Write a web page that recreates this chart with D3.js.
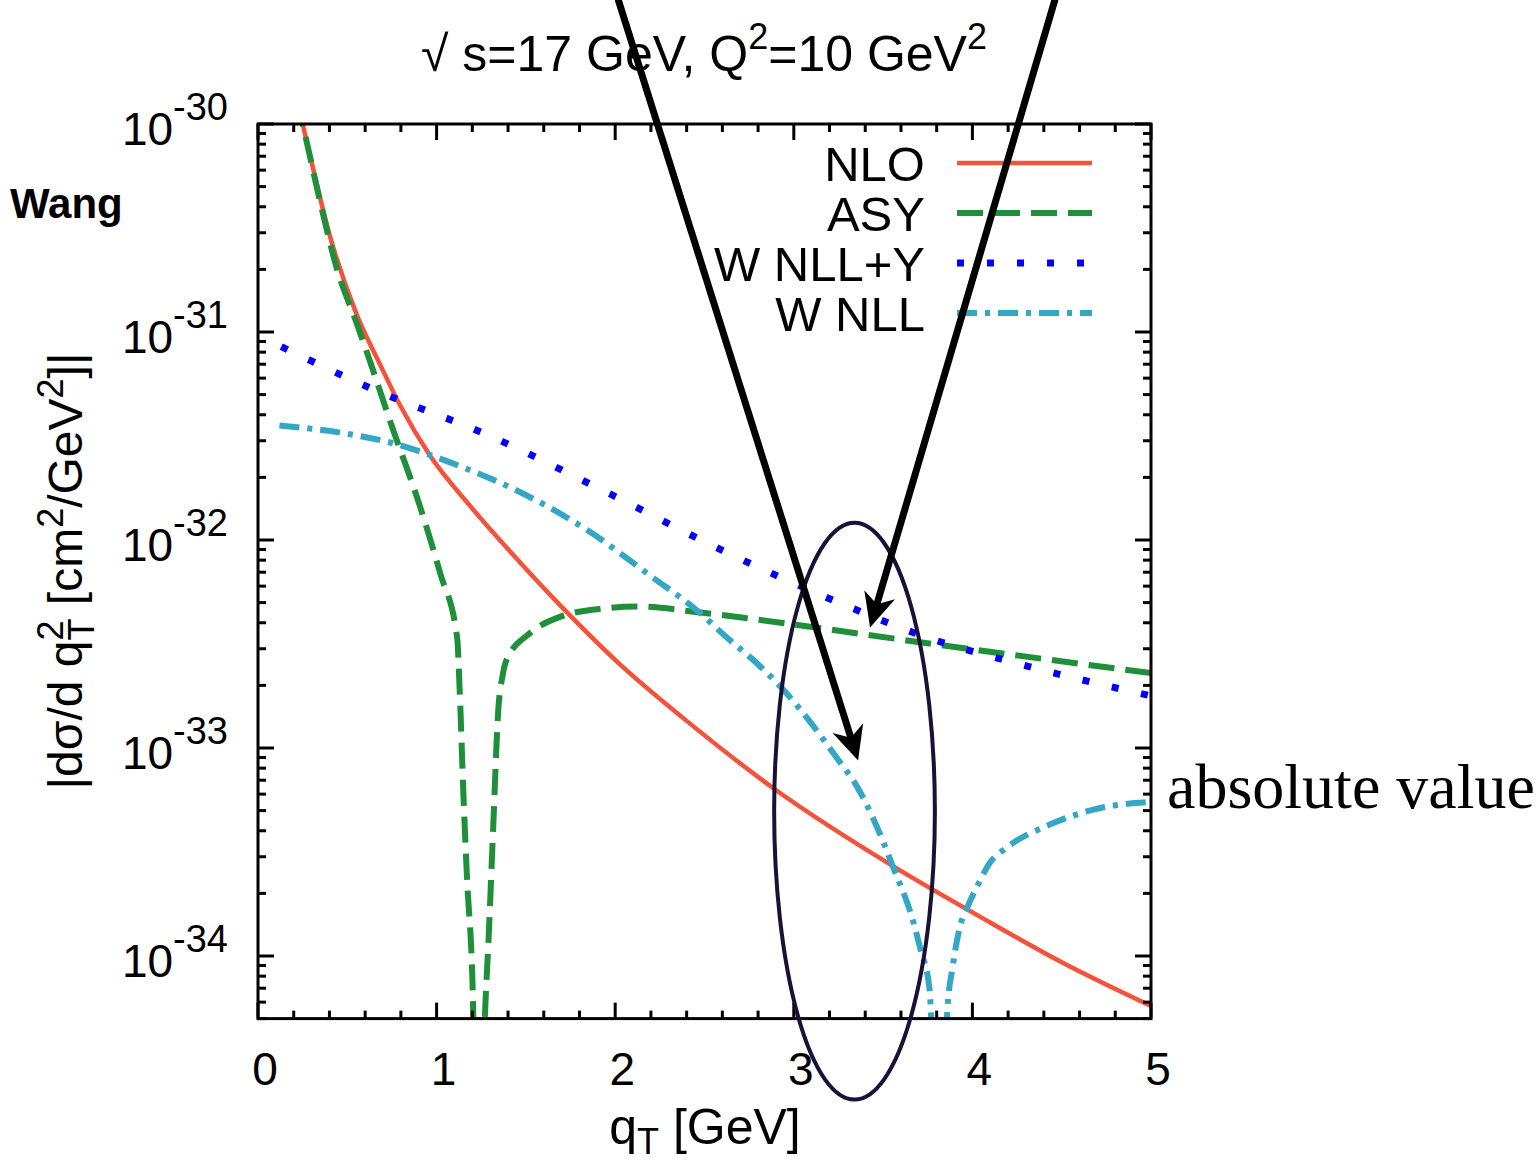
<!DOCTYPE html>
<html><head><meta charset="utf-8">
<script src="https://cdn.jsdelivr.net/npm/d3@7"></script>
<style>
body{margin:0;background:#fff}
svg{display:block}
text{font-family:"Liberation Sans",Arial,Helvetica,sans-serif;fill:#000}
</style>
</head><body>
<svg id="chart" width="1537" height="1164"></svg>
<script>
// ---------- data ----------
const xTickLabels = ["0","1","2","3","4","5"];
const yTickExponents = ["-30","-31","-32","-33","-34"];
const seriesNames = ["NLO","ASY","W NLL+Y","W NLL"];

const nloQ = [0.22,0.28,0.40,0.55,0.68,0.80,0.96,1.19,1.47,1.71,2.03,2.40,2.88,3.56,4.04,4.50,5.00];
const nloV = [1.29e-30,7.76e-31,2.95e-31,1.23e-31,7.08e-32,4.37e-32,2.57e-32,1.45e-32,7.76e-33,4.68e-33,2.51e-33,1.35e-33,6.46e-34,2.69e-34,1.55e-34,9.33e-35,5.75e-35];

const asyQ = [0.22,0.25,0.347,0.44,0.553,0.627,0.74,0.907,1.02,1.115,1.13,1.15,1.17,1.20,1.235,1.27,1.29,1.317,1.345,1.37,1.39,1.52,1.69,1.93,2.12,2.49,2.77,3.03,3.78,5.0];
const asyV = [1.29e-30,1.0e-30,4.27e-31,2.04e-31,1.10e-31,7.24e-32,3.72e-32,1.45e-32,6.92e-33,3.39e-33,1.82e-33,6.03e-34,2.40e-34,7.94e-35,3.16e-36,5.01e-35,1.15e-34,4.17e-34,1.51e-33,2.24e-33,2.63e-33,3.55e-33,4.27e-33,4.68e-33,4.79e-33,4.47e-33,4.17e-33,3.89e-33,3.16e-33,2.29e-33];

const wyQ = [0.13,0.63,1.30,1.95,2.60,3.25,3.75,4.28,5.0];
const wyV = [8.51e-32,5.37e-32,3.16e-32,1.70e-32,8.91e-33,5.01e-33,3.39e-33,2.51e-33,1.78e-33];

const wQ = [0.12,0.50,0.78,0.96,1.19,1.37,1.84,2.21,2.46,2.64,2.79,2.94,3.26,3.35,3.44,3.555,3.67,3.71,3.76,3.815,3.86,3.89,3.93,3.97,4.03,4.10,4.19,4.43,4.71,5.0];
const wV = [3.55e-32,3.24e-32,2.88e-32,2.57e-32,2.16e-32,1.86e-32,1.12e-32,6.61e-33,4.57e-33,3.31e-33,2.57e-33,1.91e-33,8.51e-34,6.61e-34,4.68e-34,2.69e-34,1.45e-34,1.07e-34,6.92e-35,3.16e-36,5.50e-35,8.91e-35,1.38e-34,1.70e-34,2.19e-34,2.82e-34,3.31e-34,4.27e-34,5.13e-34,5.50e-34];

// annotation anchors in data coordinates
const ellipseC = [3.34, 5.0e-34];
const ellipseTopV = 1.21e-32, ellipseBotV = 2.04e-35, ellipseHalfW = 0.45;
const arrowA = {from:[2.016, 3.98e-30], to:[3.36, 8.7e-34]};
const arrowB = {from:[4.463, 3.98e-30], to:[3.427, 3.8e-33]};

// ---------- layout ----------
const L = 258, R = 1151, T = 124, B = 1018.6;
const svg = d3.select("#chart");
const x = d3.scaleLinear().domain([0,5]).range([L,R]);
const y = d3.scaleLog().domain([5e-35,1e-30]).range([B,T]);

svg.append("defs").append("clipPath").attr("id","clip")
  .append("rect").attr("x",L).attr("y",T).attr("width",R-L).attr("height",B-T);

const line = d3.line().x(d=>x(d[0])).y(d=>y(d[1])).curve(d3.curveMonotoneX);
const zip = (a,b)=>a.map((v,i)=>[v,b[i]]);

const styles = [
  {q:nloQ, v:nloV, color:"#f4523a", w:4.5, dash:null},
  {q:asyQ, v:asyV, color:"#1f8f3a", w:6, dash:"26 11"},
  {q:wyQ,  v:wyV,  color:"#0000ff", w:7, dash:"7 23"},
  {q:wQ,   v:wV,   color:"#35a7c6", w:6, dash:"20 8 5 8"}
];

const g = svg.append("g").attr("clip-path","url(#clip)");
styles.forEach(s=>{
  g.append("path").attr("d", line(zip(s.q,s.v)))
    .attr("fill","none").attr("stroke",s.color).attr("stroke-width",s.w)
    .attr("stroke-dasharray",s.dash);
});

// ---------- frame and ticks ----------
const ax = svg.append("g").attr("stroke","#000").attr("stroke-width",3);
ax.append("rect").attr("x",L).attr("y",T).attr("width",R-L).attr("height",B-T).attr("fill","none");
const xMinor = d3.range(0,25).map(i=>i*0.2).filter(v=>Math.abs(v-Math.round(v))>1e-6);
const xMajor = d3.range(0,6);
xMajor.forEach(v=>{
  ax.append("line").attr("x1",x(v)).attr("x2",x(v)).attr("y1",B).attr("y2",B-16);
  ax.append("line").attr("x1",x(v)).attr("x2",x(v)).attr("y1",T).attr("y2",T+16);
});
xMinor.forEach(v=>{
  ax.append("line").attr("x1",x(v)).attr("x2",x(v)).attr("y1",B).attr("y2",B-8);
  ax.append("line").attr("x1",x(v)).attr("x2",x(v)).attr("y1",T).attr("y2",T+8);
});
const yMajor = [1e-30,1e-31,1e-32,1e-33,1e-34];
const yMinor = [];
[1e-35,1e-34,1e-33,1e-32,1e-31].forEach(d=>{
  for(let k=2;k<=9;k++){const v=k*d; if(v>=5e-35*0.999 && v<1e-30) yMinor.push(v);}
});
yMajor.forEach(v=>{
  ax.append("line").attr("x1",L).attr("x2",L+16).attr("y1",y(v)).attr("y2",y(v));
  ax.append("line").attr("x1",R).attr("x2",R-16).attr("y1",y(v)).attr("y2",y(v));
});
yMinor.forEach(v=>{
  ax.append("line").attr("x1",L).attr("x2",L+8).attr("y1",y(v)).attr("y2",y(v));
  ax.append("line").attr("x1",R).attr("x2",R-8).attr("y1",y(v)).attr("y2",y(v));
});

// tick labels
xMajor.forEach((v,i)=>{
  svg.append("text").attr("x",x(v)+7).attr("y",1085).attr("text-anchor","middle")
    .attr("font-size",46).text(xTickLabels[i]);
});
yMajor.forEach((v,i)=>{
  const t = svg.append("text").attr("x",228).attr("y",y(v)+21).attr("text-anchor","end").attr("font-size",46);
  t.append("tspan").text("10");
  t.append("tspan").attr("font-size",38).attr("dy",-25).text(yTickExponents[i]);
});

// axis titles
const xt = svg.append("text").attr("x",705).attr("y",1144).attr("text-anchor","middle").attr("font-size",50);
xt.append("tspan").text("q");
xt.append("tspan").attr("font-size",36).attr("dy",10).text("T");
xt.append("tspan").attr("dy",-10).text(" [GeV]");

const yt = svg.append("text").attr("transform","translate(82,571) rotate(-90)")
  .attr("text-anchor","middle").attr("font-size",48);
yt.append("tspan").text("|dσ/d q");
yt.append("tspan").attr("font-size",36).attr("dy",-19).text("2");
yt.append("tspan").attr("font-size",36).attr("dx",-20).attr("dy",31).text("T");
yt.append("tspan").attr("dy",-12).text(" [cm");
yt.append("tspan").attr("font-size",36).attr("dy",-19).text("2");
yt.append("tspan").attr("dy",19).text("/GeV");
yt.append("tspan").attr("font-size",36).attr("dy",-19).text("2");
yt.append("tspan").attr("dy",19).text("]|");

// title
const tt = svg.append("text").attr("x",704).attr("y",71).attr("text-anchor","middle").attr("font-size",50);
tt.append("tspan").text("√ s=17 GeV, Q");
tt.append("tspan").attr("font-size",36).attr("dy",-22).text("2");
tt.append("tspan").attr("dy",22).text("=10 GeV");
tt.append("tspan").attr("font-size",36).attr("dy",-22).text("2");

svg.append("text").attr("x",10).attr("y",218).attr("font-size",42).attr("font-weight","bold").text("Wang");
svg.append("text").attr("x",1167).attr("y",808).attr("font-size",64)
  .style("font-family","'Liberation Serif','Times New Roman',serif").text("absolute value");

// legend
const legY = [163,213,263,313];
styles.forEach((s,i)=>{
  svg.append("text").attr("x",925).attr("y",legY[i]+18).attr("text-anchor","end")
    .attr("font-size",49).text(seriesNames[i]);
  svg.append("line").attr("x1",957).attr("x2",1092).attr("y1",legY[i]).attr("y2",legY[i])
    .attr("stroke",s.color).attr("stroke-width",s.w).attr("stroke-dasharray",s.dash);
});

// ---------- annotations ----------
const cx = x(ellipseC[0]), cy = (y(ellipseTopV)+y(ellipseBotV))/2;
svg.append("ellipse").attr("cx",cx).attr("cy",cy)
  .attr("rx", x(ellipseC[0]+ellipseHalfW)-x(ellipseC[0]))
  .attr("ry",(y(ellipseBotV)-y(ellipseTopV))/2)
  .attr("fill","none").attr("stroke","#1a1038").attr("stroke-width",4);

function arrow(a){
  const sx=x(a.from[0]), sy=y(a.from[1]), tx=x(a.to[0]), ty=y(a.to[1]);
  const len=Math.hypot(tx-sx,ty-sy), ux=(tx-sx)/len, uy=(ty-sy)/len, nx=-uy, ny=ux;
  const HL=34, HW=16, ND=10;
  const bx=tx-HL*ux, by=ty-HL*uy, mx=tx-(HL-ND)*ux, my=ty-(HL-ND)*uy;
  svg.append("line").attr("x1",sx).attr("y1",sy).attr("x2",mx).attr("y2",my)
    .attr("stroke","#000").attr("stroke-width",7);
  svg.append("path").attr("d",`M${tx},${ty}L${bx+HW*nx},${by+HW*ny}L${mx},${my}L${bx-HW*nx},${by-HW*ny}Z`)
    .attr("fill","#000");
}
arrow(arrowA); arrow(arrowB);
</script>
</body></html>
